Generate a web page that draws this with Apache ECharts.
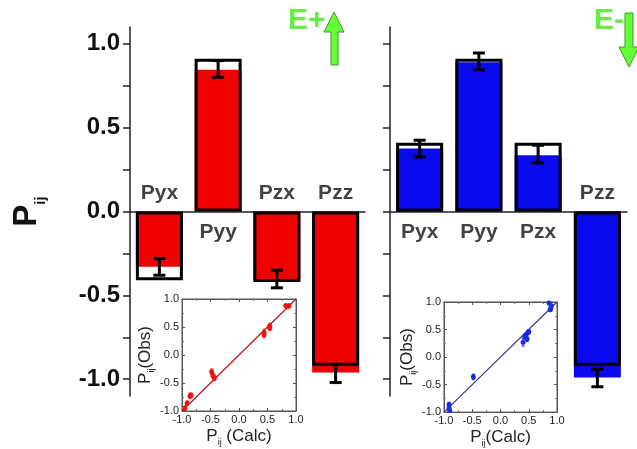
<!DOCTYPE html>
<html>
<head>
<meta charset="utf-8">
<title>Pij E+ / E-</title>
<script src="https://cdn.jsdelivr.net/npm/echarts@6/dist/echarts.min.js"></script>
<style>
  html, body { margin: 0; padding: 0; background: #fff; }
  #main { width: 637px; height: 449px; }
</style>
</head>
<body>
<div id="main"></div>
<script>
// categories and bar values
var categories = ['Pyx', 'Pyy', 'Pzx', 'Pzz'];
var leftCalc = [-0.41, 0.91, -0.42, -0.92];
var leftObs = [-0.33, 0.845, -0.41, -0.96];
var leftErrLow = [-0.38, 0.80, -0.455, -1.02];
var leftErrHigh = [-0.28, 0.90, -0.35, -0.91];

var rightCalc = [0.41, 0.91, 0.41, -0.92];
var rightObs = [0.375, 0.89, 0.335, -0.99];
var rightErrLow = [0.325, 0.845, 0.29, -1.045];
var rightErrHigh = [0.425, 0.945, 0.395, -0.94];

var yTicks = [-1, -0.75, -0.5, -0.25, 0, 0.25, 0.5, 0.75, 1];
var yLabels = [-1, -0.5, 0, 0.5, 1];

// inset scatter: calc vs obs with error
var leftInsetCalc = [-0.95, -0.91, -0.86, -0.84, -0.48, -0.455, -0.43, 0.44, 0.44, 0.54, 0.54, 0.82, 0.88, 0.85];
var leftInsetObs = [-0.95, -0.86, -0.73, -0.72, -0.30, -0.375, -0.41, 0.40, 0.36, 0.52, 0.48, 0.88, 0.88, 0.86];
var leftInsetErr = [0.04, 0.04, 0.05, 0.04, 0.05, 0.04, 0.05, 0.06, 0.05, 0.05, 0.04, 0.03, 0.03, 0.03];

var rightInsetCalc = [-0.91, -0.91, -0.90, -0.48, 0.40, 0.43, 0.45, 0.49, 0.45, 0.47, 0.50, 0.86, 0.89, 0.90, 0.88];
var rightInsetObs = [-0.86, -0.92, -0.97, -0.36, 0.27, 0.375, 0.40, 0.45, 0.36, 0.33, 0.46, 0.98, 0.89, 0.93, 0.86];
var rightInsetErr = [0.04, 0.04, 0.03, 0.05, 0.07, 0.04, 0.04, 0.04, 0.04, 0.05, 0.04, 0.03, 0.03, 0.03, 0.03];

var diagonal = [[-1, -1], [1, 1]];

var FONT = "'Liberation Sans', Arial, sans-serif";
var RED = '#f00000';
var BLUE = '#0a0aee';
var GREEN = '#66ee44';

var myChart = echarts.init(document.getElementById('main'));

function zip(a, b) {
  return a.map(function (v, i) { return [i, v, b[i]]; });
}
function points(xs, ys, es) {
  return xs.map(function (x, i) { return [x, ys[i], es[i]]; });
}

// error bar (I-beam) for the main bars
function errorBar(params, api) {
  var i = api.value(0);
  var lo = api.coord([i, api.value(1)]);
  var hi = api.coord([i, api.value(2)]);
  var half = 6;
  var st = { stroke: '#000', lineWidth: 3 };
  return {
    type: 'group',
    children: [
      { type: 'line', shape: { x1: lo[0], y1: lo[1], x2: hi[0], y2: hi[1] }, style: st },
      { type: 'line', shape: { x1: lo[0] - half, y1: lo[1], x2: lo[0] + half, y2: lo[1] }, style: st },
      { type: 'line', shape: { x1: hi[0] - half, y1: hi[1], x2: hi[0] + half, y2: hi[1] }, style: st }
    ]
  };
}

// point with small vertical error bar for the insets
function makeDot(color) {
  return function (params, api) {
    var x = api.value(0), y = api.value(1), e = api.value(2);
    var c = api.coord([x, y]);
    var t = api.coord([x, y + e]);
    var b = api.coord([x, y - e]);
    return {
      type: 'group',
      children: [
        { type: 'line', shape: { x1: t[0], y1: t[1], x2: b[0], y2: b[1] }, style: { stroke: color, lineWidth: 1 } },
        { type: 'line', shape: { x1: t[0] - 1.5, y1: t[1], x2: t[0] + 1.5, y2: t[1] }, style: { stroke: color, lineWidth: 1 } },
        { type: 'line', shape: { x1: b[0] - 1.5, y1: b[1], x2: b[0] + 1.5, y2: b[1] }, style: { stroke: color, lineWidth: 1 } },
        { type: 'circle', shape: { cx: c[0], cy: c[1], r: 2.5 }, style: { fill: color } }
      ]
    };
  };
}

function mainYAxis(idx, withLabels) {
  var ax = {
    gridIndex: idx,
    type: 'value',
    min: -1.1,
    max: 1.1,
    axisLine: { show: true, onZero: false, lineStyle: { color: '#222', width: 1.5 } },
    axisTick: { show: true, inside: false, length: 7, customValues: yTicks, lineStyle: { color: '#222', width: 1.5 } },
    axisLabel: {
      show: withLabels,
      customValues: yLabels,
      formatter: function (v) { return v.toFixed(1); },
      fontFamily: FONT, fontSize: 24, fontWeight: 'bold', color: '#111', margin: 10
    },
    splitLine: { show: false }
  };
  if (withLabels) {
    ax.name = '{p|P}{s|ij}';
    ax.nameLocation = 'middle';
    ax.nameRotate = 90;
    ax.nameGap = 88;
    ax.nameTextStyle = {
      fontFamily: FONT, color: '#111',
      rich: {
        p: { fontFamily: FONT, fontSize: 33, fontWeight: 'bold', lineHeight: 32, verticalAlign: 'top', color: '#111' },
        s: { fontFamily: FONT, fontSize: 15, fontWeight: 'bold', lineHeight: 16, padding: [30, 0, 0, 0], color: '#111' }
      }
    };
  }
  return ax;
}

function mainXAxis(idx) {
  return {
    gridIndex: idx,
    type: 'category',
    data: categories,
    axisLine: { show: true, onZero: true, lineStyle: { color: '#222', width: 1.5 } },
    axisTick: { show: false },
    axisLabel: { show: false },
    splitLine: { show: false }
  };
}

var insetRich = {
  n: { fontFamily: FONT, fontSize: 17, lineHeight: 18, verticalAlign: 'top', color: '#222' },
  s: { fontFamily: FONT, fontSize: 9, lineHeight: 10, padding: [12, 0, 0, 0], color: '#222' }
};

function insetAxis(dim, idx, pos, name, gap) {
  var ax = {
    gridIndex: idx,
    type: 'value',
    position: pos,
    min: -1, max: 1, interval: 0.5,
    axisLine: { show: true, onZero: false, lineStyle: { color: '#555', width: 1 } },
    axisTick: { show: true, inside: true, length: 3, lineStyle: { color: '#555' } },
    minorTick: { show: true, splitNumber: 2, length: 2, lineStyle: { color: '#777' } },
    axisLabel: {
      show: name !== null,
      formatter: function (v) { return v.toFixed(1); },
      fontFamily: FONT, fontSize: 11, color: '#222', margin: 3
    },
    splitLine: { show: false }
  };
  if (name) {
    ax.name = name;
    ax.nameLocation = 'middle';
    ax.nameGap = gap;
    ax.nameTextStyle = { fontFamily: FONT, rich: insetRich };
    if (dim === 'y') ax.nameRotate = 90;
  }
  return ax;
}

function labelSeries(xIdx, calc) {
  return {
    type: 'scatter',
    xAxisIndex: xIdx, yAxisIndex: xIdx,
    symbolSize: 1,
    itemStyle: { color: 'rgba(0,0,0,0)' },
    silent: true,
    z: 5,
    data: categories.map(function (c, i) {
      return { value: [i, 0], label: { offset: [0, calc[i] < 0 ? -18 : 21] } };
    }),
    label: {
      show: true, position: 'inside',
      formatter: function (p) { return categories[p.value[0]]; },
      fontFamily: FONT, fontSize: 21, fontWeight: 'bold', color: '#111'
    }
  };
}

function barPair(idx, obs, calc, color) {
  return [
    { type: 'bar', xAxisIndex: idx, yAxisIndex: idx, data: obs, barWidth: 47, itemStyle: { color: color }, z: 2 },
    { type: 'bar', xAxisIndex: idx, yAxisIndex: idx, data: calc, barWidth: 47, barGap: '-100%',
      itemStyle: { color: 'rgba(0,0,0,0)', borderColor: '#000', borderWidth: 3 }, z: 3 }
  ];
}

var option = {
  backgroundColor: '#fff',
  animation: false,
  textStyle: { fontFamily: FONT },
  grid: [
    { left: 130, top: 27, width: 235, height: 369 },
    { left: 390, top: 27, width: 237, height: 369 },
    { left: 182, top: 299, width: 114, height: 112, show: true, backgroundColor: '#fff', borderColor: '#555', borderWidth: 1 },
    { left: 444, top: 302, width: 113, height: 111, show: true, backgroundColor: '#fff', borderColor: '#555', borderWidth: 1 }
  ],
  xAxis: [
    mainXAxis(0),
    mainXAxis(1),
    insetAxis('x', 2, 'bottom', '{n|P}{s|ij}{n| (Calc)}', 13),
    insetAxis('x', 3, 'bottom', '{n|P}{s|ij}{n|(Calc)}', 14),
    insetAxis('x', 2, 'top', null),
    insetAxis('x', 3, 'top', null)
  ],
  yAxis: [
    mainYAxis(0, true),
    mainYAxis(1, false),
    insetAxis('y', 2, 'left', '{n|P}{s|ij}{n|(Obs)}', 21),
    insetAxis('y', 3, 'left', '{n|P}{s|ij}{n|(Obs)}', 23),
    insetAxis('y', 2, 'right', null),
    insetAxis('y', 3, 'right', null)
  ],
  series: [].concat(
    barPair(0, leftObs, leftCalc, RED),
    barPair(1, rightObs, rightCalc, BLUE),
    [
      { type: 'custom', xAxisIndex: 0, yAxisIndex: 0, renderItem: errorBar, data: zip(leftErrLow, leftErrHigh), encode: { x: 0, y: [1, 2] }, z: 4 },
      { type: 'custom', xAxisIndex: 1, yAxisIndex: 1, renderItem: errorBar, data: zip(rightErrLow, rightErrHigh), encode: { x: 0, y: [1, 2] }, z: 4 },
      labelSeries(0, leftCalc),
      labelSeries(1, rightCalc),
      { type: 'line', xAxisIndex: 2, yAxisIndex: 2, data: diagonal, symbol: 'none', lineStyle: { color: '#b01818', width: 1.2 }, z: 3 },
      { type: 'line', xAxisIndex: 3, yAxisIndex: 3, data: diagonal, symbol: 'none', lineStyle: { color: '#3a3a88', width: 1.2 }, z: 3 },
      { type: 'custom', xAxisIndex: 2, yAxisIndex: 2, renderItem: makeDot('#ee1111'), data: points(leftInsetCalc, leftInsetObs, leftInsetErr), encode: { x: 0, y: 1 }, z: 4 },
      { type: 'custom', xAxisIndex: 3, yAxisIndex: 3, renderItem: makeDot('#1a2ae6'), data: points(rightInsetCalc, rightInsetObs, rightInsetErr), encode: { x: 0, y: 1 }, z: 4 }
    ]
  ),
  graphic: [
    { type: 'text', left: 288, top: 6, style: { text: 'E+', fill: GREEN, font: "bold 30px 'Liberation Sans', Arial, sans-serif" } },
    { type: 'polygon', shape: { points: [[334, 12], [344, 32], [338, 32], [338, 65], [331, 65], [331, 32], [324, 32]] },
      style: { fill: '#66ff33', stroke: '#3a9a2a', lineWidth: 1 } },
    { type: 'text', left: 594, top: 6, style: { text: 'E-', fill: GREEN, font: "bold 30px 'Liberation Sans', Arial, sans-serif" } },
    { type: 'polygon', shape: { points: [[625, 13], [633, 13], [633, 47], [639, 47], [629, 67], [619, 47], [625, 47]] },
      style: { fill: '#66ff33', stroke: '#3a9a2a', lineWidth: 1 } }
  ]
};

myChart.setOption(option);
</script>
</body>
</html>
